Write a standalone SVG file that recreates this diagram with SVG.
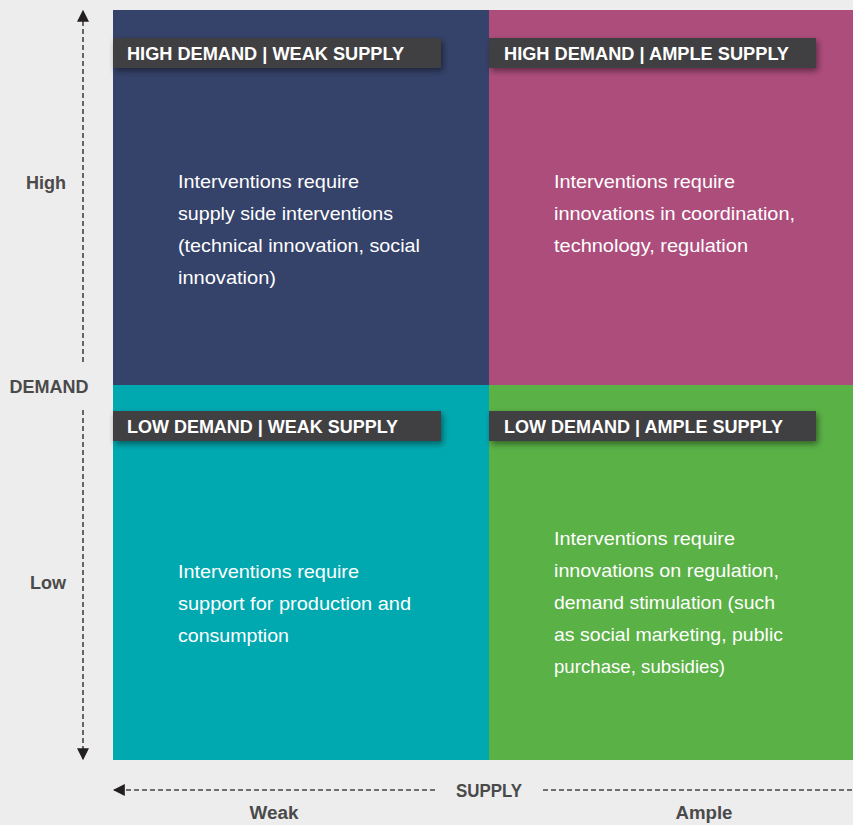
<svg xmlns="http://www.w3.org/2000/svg" width="853" height="825" viewBox="0 0 853 825">
<style>
.body{font-family:"Liberation Sans","Noto Sans",sans-serif;font-size:19px;fill:#ffffff}
.lab{font-family:"Liberation Sans","Noto Sans",sans-serif;font-size:19px;font-weight:bold;fill:#ffffff}
.axis{font-family:"Liberation Sans","Noto Sans",sans-serif;font-size:18px;font-weight:bold;fill:#4a4a4a;text-anchor:middle}
.bar{fill:#414042}
.dash{stroke:#444;stroke-width:1.6;stroke-dasharray:5 3;fill:none}
</style>
<defs>
<filter id="sh" x="-10%" y="-50%" width="120%" height="200%">
<feGaussianBlur in="SourceAlpha" stdDeviation="3"/>
<feOffset dx="2" dy="3" result="b"/>
<feComponentTransfer><feFuncA type="linear" slope="0.45"/></feComponentTransfer>
<feMerge><feMergeNode/><feMergeNode in="SourceGraphic"/></feMerge>
</filter>
<marker id="ah" viewBox="0 0 10 10" refX="9" refY="5" markerWidth="12" markerHeight="12" markerUnits="userSpaceOnUse" orient="auto">
<path d="M0,0 L10,5 L0,10 Z" fill="#231f20"/>
</marker>
</defs>
<rect width="853" height="825" fill="#ededed"/>

<g id="q-high-weak">
<rect x="113" y="10" width="376" height="375" fill="#35426a"/>
<rect class="bar" x="113" y="38" width="328" height="30" filter="url(#sh)"/>
<text class="lab" x="127" y="60" textLength="277" lengthAdjust="spacingAndGlyphs">HIGH DEMAND | WEAK SUPPLY</text>
<text class="body" x="178" y="188" textLength="181" lengthAdjust="spacingAndGlyphs">Interventions require</text>
<text class="body" x="178" y="220" textLength="215" lengthAdjust="spacingAndGlyphs">supply side interventions</text>
<text class="body" x="178" y="252" textLength="242" lengthAdjust="spacingAndGlyphs">(technical innovation, social</text>
<text class="body" x="178" y="284" textLength="98" lengthAdjust="spacingAndGlyphs">innovation)</text>
</g>

<g id="q-high-ample">
<rect x="489" y="10" width="364" height="375" fill="#ad4d7c"/>
<rect class="bar" x="489" y="38" width="327" height="30" filter="url(#sh)"/>
<text class="lab" x="504" y="60" textLength="285" lengthAdjust="spacingAndGlyphs">HIGH DEMAND | AMPLE SUPPLY</text>
<text class="body" x="554" y="188" textLength="181" lengthAdjust="spacingAndGlyphs">Interventions require</text>
<text class="body" x="554" y="220" textLength="241" lengthAdjust="spacingAndGlyphs">innovations in coordination,</text>
<text class="body" x="554" y="252" textLength="194" lengthAdjust="spacingAndGlyphs">technology, regulation</text>
</g>

<g id="q-low-weak">
<rect x="113" y="385" width="376" height="375" fill="#00a9b0"/>
<rect class="bar" x="113" y="411" width="328" height="30" filter="url(#sh)"/>
<text class="lab" x="127" y="433" textLength="271" lengthAdjust="spacingAndGlyphs">LOW DEMAND | WEAK SUPPLY</text>
<text class="body" x="178" y="578" textLength="181" lengthAdjust="spacingAndGlyphs">Interventions require</text>
<text class="body" x="178" y="610" textLength="233" lengthAdjust="spacingAndGlyphs">support for production and</text>
<text class="body" x="178" y="642" textLength="111" lengthAdjust="spacingAndGlyphs">consumption</text>
</g>

<g id="q-low-ample">
<rect x="489" y="385" width="364" height="375" fill="#5ab146"/>
<rect class="bar" x="489" y="411" width="327" height="30" filter="url(#sh)"/>
<text class="lab" x="504" y="433" textLength="279" lengthAdjust="spacingAndGlyphs">LOW DEMAND | AMPLE SUPPLY</text>
<text class="body" x="554" y="545" textLength="181" lengthAdjust="spacingAndGlyphs">Interventions require</text>
<text class="body" x="554" y="577" textLength="225" lengthAdjust="spacingAndGlyphs">innovations on regulation,</text>
<text class="body" x="554" y="609" textLength="221" lengthAdjust="spacingAndGlyphs">demand stimulation (such</text>
<text class="body" x="554" y="641" textLength="229" lengthAdjust="spacingAndGlyphs">as social marketing, public</text>
<text class="body" x="554" y="673" textLength="171" lengthAdjust="spacingAndGlyphs">purchase, subsidies)</text>
</g>

<g id="connectors">
<line class="dash" x1="83" y1="362" x2="83" y2="11" marker-end="url(#ah)"/>
<line class="dash" x1="83" y1="410" x2="83" y2="759" marker-end="url(#ah)"/>
<line class="dash" x1="435" y1="790" x2="114" y2="790" marker-end="url(#ah)"/>
<line class="dash" x1="543" y1="790" x2="853" y2="790"/>
</g>

<g id="axis-labels">
<text class="axis" x="46" y="189" textLength="40" lengthAdjust="spacingAndGlyphs">High</text>
<text class="axis" x="49" y="393" textLength="79" lengthAdjust="spacingAndGlyphs">DEMAND</text>
<text class="axis" x="48" y="589" textLength="36" lengthAdjust="spacingAndGlyphs">Low</text>
<text class="axis" x="489" y="797" textLength="66" lengthAdjust="spacingAndGlyphs">SUPPLY</text>
<text class="axis" x="274" y="819" textLength="49" lengthAdjust="spacingAndGlyphs">Weak</text>
<text class="axis" x="704" y="819" textLength="57" lengthAdjust="spacingAndGlyphs">Ample</text>
</g>
</svg>
